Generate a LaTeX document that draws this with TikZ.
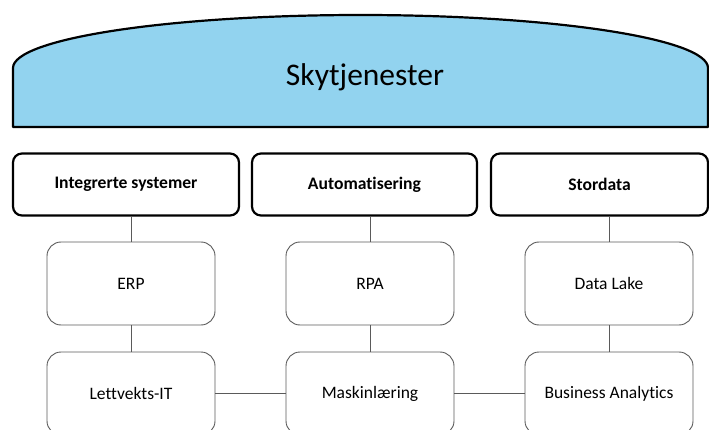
\documentclass[tikz,border=0pt]{standalone}
\usepackage{fontspec}
\setmainfont[Ligatures=NoCommon]{Carlito}
\definecolor{skyfill}{HTML}{92D3EF}
\definecolor{thinline}{HTML}{5A5A5A}
\tikzset{
  headbox/.style={draw=black, line width=2.2pt, rounded corners=9pt, fill=white,
    minimum width=226pt, minimum height=62pt, inner sep=0pt, font=\fontsize{17.6}{20}\selectfont\bfseries},
  itembox/.style={draw=thinline, line width=0.9pt, rounded corners=14pt, fill=white,
    minimum width=168pt, minimum height=83pt, inner sep=0pt, font=\fontsize{17.5}{20}\selectfont},
  link/.style={draw=thinline, line width=0.9pt}
}
\begin{document}
\begin{tikzpicture}[x=1pt, y=-1pt]
\useasboundingbox (0,0) rectangle (709,430);
\clip (0,0) rectangle (709,430);

% cloud banner
\draw[fill=skyfill, line width=2.2pt, line join=round]
  (13,127) -- (13,68) arc[start angle=180, end angle=0, x radius=347.5pt, y radius=53pt]
  -- (708,127) -- cycle;
\node[font=\fontsize{31.5}{36}\selectfont] (sky) at (365,77) {Skytjenester};

% category headers
\node[headbox] (h1) at (126,184.5) {Integrerte systemer};
\node[headbox, minimum width=225pt] (h2) at (364.5,184.5) {Automatisering};
\node[headbox, minimum width=217pt] (h3) at (599.5,184.5) {Stordata};

% middle row
\node[itembox] (erp) at (131,283.5) {ERP};
\node[itembox] (rpa) at (370,283.5) {RPA};
\node[itembox] (lake) at (609,283.5) {Data Lake};

% bottom row
\node[itembox] (lett) at (131,393.5) {Lettvekts-IT};
\node[itembox] (mask) at (370,393.5) {Maskinlæring};
\node[itembox] (ba) at (609,393.5) {Business Analytics};

% connectors
\draw[link] (erp.north) -- (erp.north |- h1.south);
\draw[link] (rpa.north) -- (rpa.north |- h2.south);
\draw[link] (lake.north) -- (lake.north |- h3.south);
\draw[link] (erp) -- (lett);
\draw[link] (rpa) -- (mask);
\draw[link] (lake) -- (ba);
\draw[link] (lett) -- (mask);
\draw[link] (mask) -- (ba);
\end{tikzpicture}
\end{document}
